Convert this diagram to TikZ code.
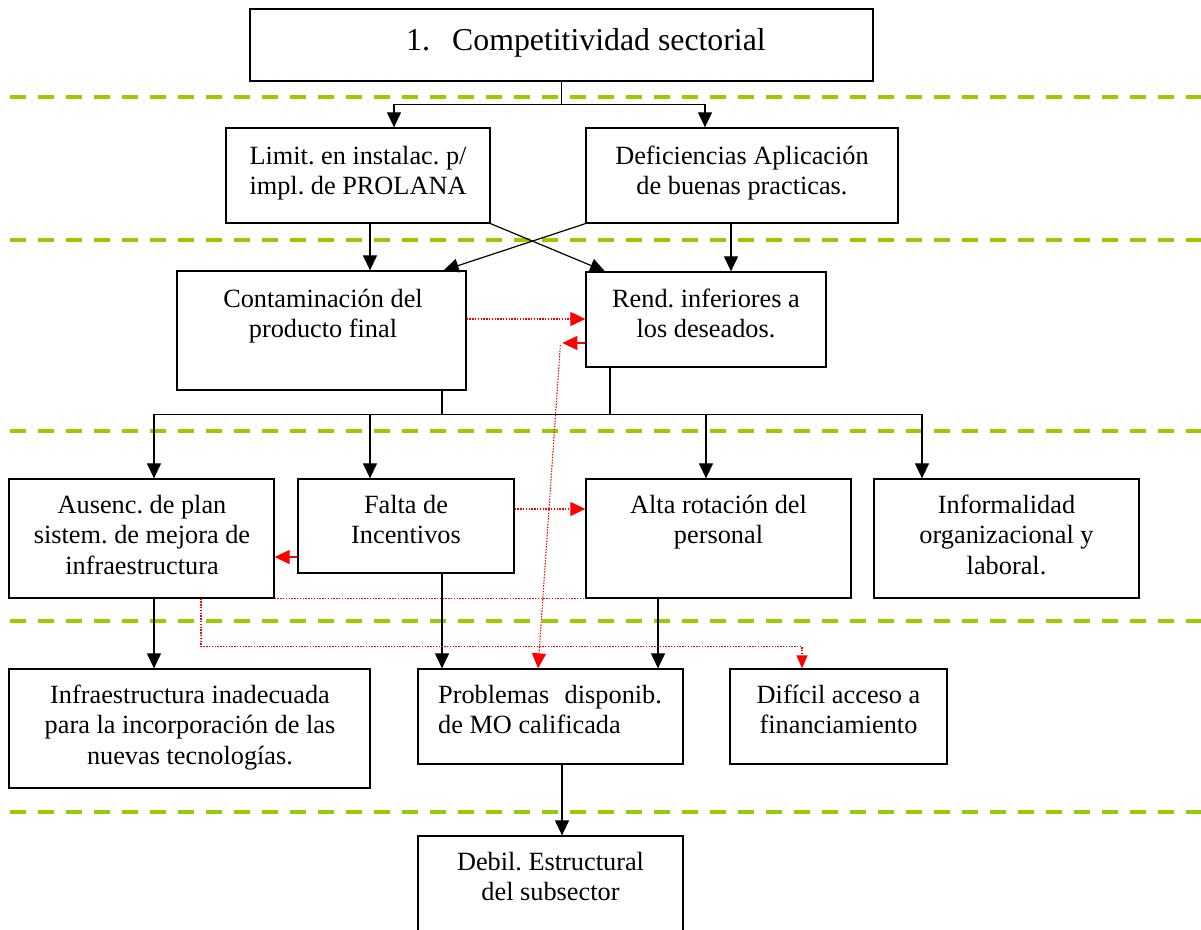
\documentclass[tikz,border=0pt]{standalone}
\usepackage{fontspec}
\setmainfont{Liberation Serif}
\usetikzlibrary{arrows.meta,fit}
\definecolor{grn}{RGB}{153,204,0}
\frenchspacing
\newcommand\mlc[1]{\vtop{\baselineskip=30.5pt\halign{\hfil##\hfil\cr#1\crcr}}}
\newcommand\mll[1]{\vtop{\baselineskip=30.5pt\halign{##\hfil\cr#1\crcr}}}
\tikzset{
 box/.style={draw, line width=1.3pt, inner sep=0pt},
 txt/.style={inner sep=0pt, anchor=base, font=\fontsize{26.3}{30.5}\selectfont},
 ln/.style={line width=1.2pt},
 arr/.style={line width=1.2pt, -{Triangle[length=15pt,width=14pt]}},
 rdot/.style={red, line width=1.1pt, dash pattern=on 1.4pt off 1.4pt},
 rarr/.style={red, line width=1.2pt, -{Triangle[length=15pt,width=14pt]}},
 rdotarr/.style={rdot, -{Triangle[length=15pt,width=14pt]}},
 sepline/.style={draw=grn, line width=3.5pt, dash pattern=on 16pt off 12pt},
}
\begin{document}
\frenchspacing
\begin{tikzpicture}[x=1pt,y=-1pt]
\clip (0,0) rectangle (1201,929);
\fill[white] (0,0) rectangle (1201,929);
% separator lines
\foreach \yy in {97,240,431,621,812} \draw[sepline] (10,\yy) -- (1201,\yy);
% boxes
\node[box, fit={(250,9) (873,81)}] (top) {};
\node[box, fit={(226,128) (490,223)}] (lim) {};
\node[box, fit={(586,128) (898,223)}] (def) {};
\node[box, fit={(177,271) (466,390)}] (con) {};
\node[box, fit={(586,272) (826,367)}] (ren) {};
\node[box, fit={(9,479) (274,598)}] (aus) {};
\node[box, fit={(298,479) (514,573)}] (fal) {};
\node[box, fit={(586,479) (851,598)}] (alt) {};
\node[box, fit={(874,479) (1139,598)}] (inf) {};
\node[box, fit={(9,669) (370,788)}] (infra) {};
\node[box, fit={(418,669) (683,764)}] (pro) {};
\node[box, fit={(730,669) (947,764)}] (dif) {};
\node[box, fit={(418,836) (683,945)}] (deb) {};
% texts
\node[inner sep=0pt, anchor=base west, font=\fontsize{31.8}{36}\selectfont] (topt) at (406,50) {\hbox to 46pt{1.\hfil}Competitividad sectorial};
\node[txt] (limt) at (358,164) {\mlc{Limit. en instalac. p/\cr impl. de PROLANA}};
\node[txt] (deft) at (742,164) {\mlc{Deficiencias Aplicación\cr de buenas practicas.}};
\node[txt] (cont) at (323,307) {\mlc{Contaminación del\cr producto final}};
\node[txt] (rent) at (706,307) {\mlc{Rend. inferiores a\cr los deseados.}};
\node[txt] (aust) at (142,513) {\mlc{Ausenc. de plan\cr sistem. de mejora de\cr infraestructura}};
\node[txt] (falt) at (406,513) {\mlc{Falta de\cr Incentivos}};
\node[txt] (altt) at (718.5,513) {\mlc{Alta rotación del\cr personal}};
\node[txt] (inft) at (1006.5,513) {\mlc{Informalidad\cr organizacional y\cr laboral.}};
\node[txt] (infrat) at (190,703) {\mlc{Infraestructura inadecuada\cr para la incorporación de las\cr nuevas tecnologías.}};
\node[txt, anchor=base west] (prot) at (438,703) {\mll{Problemas\hspace{0.34em} disponib.\cr de MO calificada}};
\node[txt] (dift) at (838.5,703) {\mlc{Difícil acceso a\cr financiamiento}};
\node[txt] (debt) at (550.5,870) {\mlc{Debil. Estructural\cr del subsector}};
% black connectors
\draw[arr] (top.south) -- ++(0,23) -| ([xshift=36pt]lim.north);
\draw[arr] (top.south) -- ++(0,23) -| ([xshift=-37pt]def.north);
\draw[arr] ([xshift=12pt]lim.south) -- ([xshift=12pt]lim.south |- con.north);
\draw[arr] ([xshift=-11pt]def.south) -- ([xshift=-11pt]def.south |- ren.north);
\draw[arr] (lim.south east) -- ([xshift=-101pt]ren.north);
\draw[arr] (def.south west) -- ([xshift=-23pt]con.north east);
\coordinate (bus) at ([xshift=120.5pt,yshift=-24pt]con.south);
\draw[ln] ([xshift=120.5pt]con.south) -- (bus);
\draw[ln] ([xshift=-96pt]ren.south) |- (bus);
\draw[arr] (bus) -| ([xshift=12.5pt]aus.north);
\draw[arr] (bus) -| ([xshift=-36pt]fal.north);
\draw[arr] (bus) -| ([xshift=-12.5pt]alt.north);
\draw[arr] (bus) -| ([xshift=-84.5pt]inf.north);
\draw[arr] ([xshift=12.5pt]aus.south) -- ([xshift=12.5pt]aus.south |- infra.north);
\draw[arr] ([xshift=36pt]fal.south) -- ([xshift=36pt]fal.south |- pro.north);
\draw[arr] ([xshift=-60.5pt]alt.south) -- ([xshift=-60.5pt]alt.south |- pro.north);
\draw[arr] ([xshift=11.5pt]pro.south) -- ([xshift=11.5pt]pro.south |- deb.north);
% red connectors
\draw[rdotarr] ([yshift=11.5pt]con.east) -- ([yshift=11.5pt]con.east -| ren.west);
\draw[rarr] ([yshift=-23.5pt]ren.west) -- ++(-23,0) coordinate (rk);
\draw[rdotarr] ([xshift=-2pt,yshift=-2pt]rk) -- ([xshift=-12.5pt]pro.north);
\draw[rdotarr] ([yshift=17pt]fal.east) -- ([yshift=17pt]fal.east -| alt.west);
\draw[rarr] ([yshift=-31pt]fal.west) -- ([yshift=-31pt]fal.west -| aus.east);
\draw[rdot] (aus.south east) -- (alt.south west);
\draw[rdot, -{Triangle[length=13pt,width=11pt]}] ([xshift=59.5pt]aus.south) -- ++(0,48) -| ([xshift=-36.5pt]dif.north);
\end{tikzpicture}
\end{document}
